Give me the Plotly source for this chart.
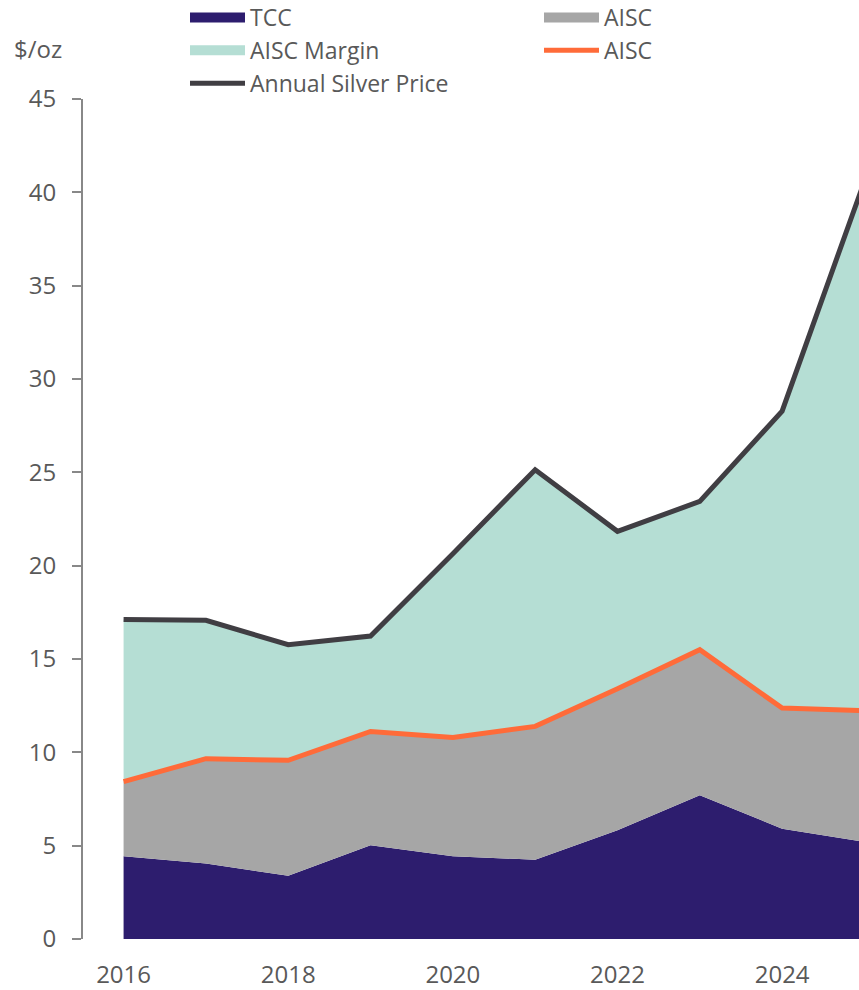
import plotly.graph_objects as go

years = [2016, 2017, 2018, 2019, 2020, 2021, 2022, 2023, 2024, 2025]
tcc = [4.43, 4.04, 3.39, 5.02, 4.43, 4.25, 5.82, 7.70, 5.91, 5.2]
aisc = [8.43, 9.66, 9.57, 11.12, 10.79, 11.39, 13.41, 15.50, 12.37, 12.23]
price = [17.11, 17.07, 15.77, 16.23, 20.64, 25.14, 21.84, 23.44, 28.28, 40.6]
x_ticks = [2016, 2018, 2020, 2022, 2024]
y_ticks = [0, 5, 10, 15, 20, 25, 30, 35, 40, 45]

NAVY = "#2D1D6E"
GREY = "#A6A6A6"
MINT = "#B5DED4"
ORANGE = "#FF6B39"
DARK = "#403E43"
TXT = "#595959"
FONT = "Open Sans"

fig = go.Figure()
fig.add_trace(go.Scatter(x=years, y=tcc, mode="lines", fill="tozeroy",
                         fillcolor=NAVY, line=dict(width=0, color=NAVY),
                         showlegend=False, hoverinfo="skip"))
fig.add_trace(go.Scatter(x=years, y=aisc, mode="lines", fill="tonexty",
                         fillcolor=GREY, line=dict(width=0, color=GREY),
                         showlegend=False, hoverinfo="skip"))
fig.add_trace(go.Scatter(x=years, y=price, mode="lines", fill="tonexty",
                         fillcolor=MINT, line=dict(width=0, color=MINT),
                         showlegend=False, hoverinfo="skip"))
fig.add_trace(go.Scatter(x=years, y=aisc, mode="lines", name="AISC",
                         line=dict(width=5, color=ORANGE), showlegend=False))
fig.add_trace(go.Scatter(x=years, y=price, mode="lines", name="Annual Silver Price",
                         line=dict(width=5, color=DARK), showlegend=False))

# legend entries
def leg(name, color, width, legend):
    fig.add_trace(go.Scatter(x=[None], y=[None], mode="lines", name=name,
                             line=dict(width=width, color=color),
                             legend=legend, showlegend=True))

leg("TCC", NAVY, 17, "legend")
leg("AISC Margin", MINT, 17, "legend")
leg("Annual Silver Price", DARK, 5, "legend")
leg("AISC", GREY, 17, "legend2")
leg("AISC", ORANGE, 5, "legend2")

L, R, T, B = 83, 0, 99, 51
W, H = 859, 990
pw = W - L - R
ph = H - T - B

def px_to_paper_x(px):
    return (px - L) / pw

def px_to_paper_y(py):
    return (H - B - py) / ph

legend_common = dict(
    orientation="v", xanchor="left", yanchor="top",
    font=dict(family=FONT, size=23, color=TXT),
    bgcolor="rgba(0,0,0,0)", borderwidth=0,
    itemwidth=55, tracegroupgap=0, traceorder="normal",
)

fig.update_layout(
    width=W, height=H,
    margin=dict(l=L, r=R, t=T, b=B, pad=0, autoexpand=False),
    paper_bgcolor="white", plot_bgcolor="white",
    font=dict(family=FONT, size=24, color=TXT),
    legend=dict(x=px_to_paper_x(185), y=px_to_paper_y(-4), **legend_common),
    legend2=dict(x=px_to_paper_x(539), y=px_to_paper_y(-4), **legend_common),
    xaxis=dict(range=[2015.507, 2024.934], tickmode="array", tickvals=x_ticks,
               ticktext=[str(v) for v in x_ticks],
               showline=False, showgrid=False, zeroline=False, ticks="",
               ticklabelstandoff=19, automargin=False,
               tickfont=dict(family=FONT, size=24, color=TXT)),
    yaxis=dict(range=[0, 45], tickmode="array", tickvals=y_ticks,
               showline=True, linecolor="#888888", linewidth=2,
               ticks="outside", ticklen=9, tickwidth=2, tickcolor="#888888",
               showgrid=False, zeroline=False, ticklabelstandoff=11,
               automargin=False,
               tickfont=dict(family=FONT, size=24, color=TXT)),
    annotations=[dict(text="$/oz", xref="paper", yref="paper",
                      x=px_to_paper_x(12), y=px_to_paper_y(49),
                      xanchor="left", yanchor="middle", showarrow=False,
                      font=dict(family=FONT, size=24, color=TXT))],
)

fig.write_html("out.html",
               config={"displayModeBar": False},
               post_script="document.body.style.margin='0px';document.body.style.overflow='hidden';")
